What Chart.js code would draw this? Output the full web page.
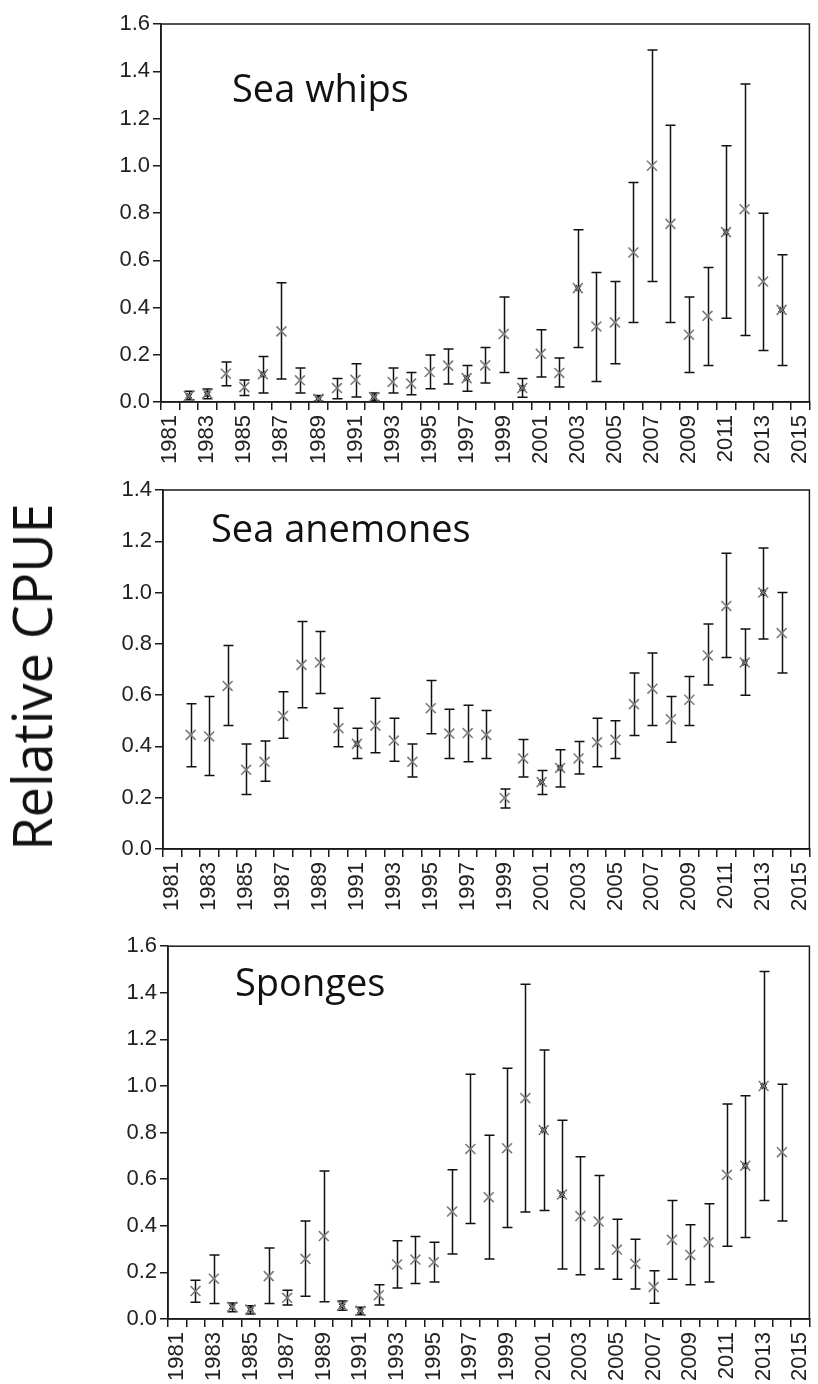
<!DOCTYPE html>
<html>
<head>
<meta charset="utf-8">
<script src="https://cdn.jsdelivr.net/npm/chart.js@4.4.1/dist/chart.umd.min.js"></script>
<style>
  body { margin: 0; background: #fff; }
  #wrap { position: relative; width: 818px; height: 1384px; }
  canvas { position: absolute; left: 0; }
  #ylab { position: absolute; left: 31px; top: 677px; transform: translate(-50%, -50%) rotate(-90deg);
          font-family: "Open Sans", sans-serif; font-size: 54px; color: #111; white-space: nowrap; }
</style>
</head>
<body>
<div id="wrap">
  <canvas id="c1" width="818" height="465" style="top:0px"></canvas>
  <canvas id="c2" width="818" height="465" style="top:465px"></canvas>
  <canvas id="c3" width="818" height="454" style="top:930px"></canvas>
  <div id="ylab">Relative CPUE</div>
</div>
<script>
// category labels on the x axis (one slot per year)
var yearLabels = ['1981','1982','1983','1984','1985','1986','1987','1988','1989','1990','1991','1992',
  '1993','1994','1995','1996','1997','1998','1999','2000','2001','2002','2003','2004','2005','2006',
  '2007','2008','2009','2010','2011','2012','2013','2014','2015'];
// years that have a survey value
var dataYears = [1982,1983,1984,1985,1986,1987,1988,1989,1990,1991,1992,1993,1994,1995,1996,
  1997,1998,1999,2000,2001,2002,2003,2004,2005,2006,2007,2008,2009,2010,2011,2012,2013,2014];

// Sea whips
var whipsMean = [0.025,0.035,0.12,0.063,0.117,0.299,0.092,0.014,0.059,0.094,0.021,0.085,0.078,0.127,0.154,
  0.101,0.155,0.288,0.059,0.204,0.123,0.482,0.320,0.337,0.633,1.0,0.754,0.285,0.365,0.719,0.816,0.510,0.390];
var whipsHigh = [0.045,0.055,0.169,0.093,0.193,0.505,0.144,0.027,0.099,0.162,0.038,0.144,0.125,0.199,0.224,
  0.155,0.231,0.444,0.099,0.306,0.186,0.729,0.548,0.510,0.929,1.49,1.171,0.444,0.569,1.085,1.346,0.799,0.623];
var whipsLow = [0.01,0.014,0.069,0.027,0.038,0.097,0.038,0.003,0.014,0.021,0.006,0.038,0.031,0.056,0.076,
  0.045,0.080,0.125,0.020,0.106,0.063,0.231,0.087,0.162,0.337,0.510,0.337,0.125,0.155,0.355,0.282,0.218,0.155];
var whipsDark = [1982,1983,1986,1989,1992,1997,2000,2003,2011,2014];

// Sea anemones
var anemMean = [0.445,0.439,0.636,0.309,0.340,0.519,0.718,0.727,0.471,0.410,0.481,0.423,0.340,0.549,0.450,
  0.452,0.445,0.199,0.353,0.261,0.316,0.353,0.416,0.426,0.565,0.625,0.506,0.582,0.755,0.948,0.727,1.0,0.842];
var anemHigh = [0.566,0.595,0.794,0.409,0.421,0.613,0.887,0.848,0.549,0.471,0.588,0.510,0.409,0.657,0.545,
  0.561,0.540,0.234,0.427,0.306,0.387,0.419,0.510,0.500,0.686,0.764,0.595,0.673,0.877,1.153,0.858,1.174,1.0];
var anemLow = [0.321,0.287,0.482,0.213,0.264,0.432,0.551,0.606,0.399,0.353,0.375,0.342,0.281,0.449,0.353,
  0.340,0.353,0.160,0.281,0.213,0.242,0.292,0.321,0.353,0.443,0.482,0.416,0.482,0.640,0.747,0.600,0.819,0.686];
var anemDark = [1991,2001,2002,2012,2013];

// Sponges
var spongeMean = [0.120,0.173,0.052,0.041,0.184,0.091,0.258,0.356,0.057,0.035,0.102,0.234,0.255,0.244,0.461,
  0.730,0.523,0.733,0.948,0.811,0.534,0.442,0.418,0.298,0.237,0.137,0.340,0.275,0.329,0.619,0.658,1.0,0.716];
var spongeHigh = [0.166,0.275,0.069,0.057,0.305,0.123,0.421,0.635,0.077,0.050,0.147,0.336,0.354,0.329,0.641,
  1.050,0.789,1.076,1.437,1.155,0.853,0.696,0.616,0.428,0.342,0.207,0.509,0.404,0.495,0.923,0.958,1.491,1.008];
var spongeLow = [0.072,0.067,0.031,0.021,0.067,0.060,0.098,0.074,0.038,0.018,0.060,0.133,0.152,0.159,0.279,
  0.410,0.258,0.393,0.459,0.466,0.215,0.190,0.215,0.171,0.129,0.068,0.171,0.147,0.159,0.312,0.350,0.509,0.421];
var spongeDark = [1984,1985,1990,1991,2001,2002,2012,2013];

var tickFont = { family: '"Liberation Sans", Arial, sans-serif', size: 22 };
var axisColor = '#1a1a1a';

// whiskers drawn under the markers, from the y scale
var errorBars = {
  id: 'errorBars',
  beforeDatasetsDraw: function (chart, args, opts) {
    var ctx = chart.ctx, y = chart.scales.y;
    var pts = chart.getDatasetMeta(0).data;
    ctx.save();
    ctx.strokeStyle = '#111';
    ctx.lineWidth = 1.5;
    for (var i = 0; i < pts.length; i++) {
      var px = Math.round(pts[i].x) + 0.5;
      var top = y.getPixelForValue(opts.high[i]);
      var bot = y.getPixelForValue(opts.low[i]);
      ctx.beginPath();
      ctx.moveTo(px, top); ctx.lineTo(px, bot);
      ctx.moveTo(px - 5, top); ctx.lineTo(px + 5, top);
      ctx.moveTo(px - 5, bot); ctx.lineTo(px + 5, bot);
      ctx.stroke();
    }
    ctx.restore();
  }
};

// box round the plot area and the panel name
var frame = {
  id: 'frame',
  afterDraw: function (chart, args, opts) {
    var a = chart.chartArea, ctx = chart.ctx;
    ctx.save();
    ctx.strokeStyle = axisColor;
    ctx.lineWidth = 1.5;
    ctx.strokeRect(a.left, a.top, a.right - a.left, a.bottom - a.top);
    ctx.fillStyle = '#111';
    ctx.font = '38px "Open Sans", sans-serif';
    ctx.textBaseline = 'alphabetic';
    ctx.fillText(opts.text, a.left + opts.dx, a.top + opts.dy);
    ctx.restore();
  }
};

function makePanel(id, name, mean, low, high, dark, yMax, box) {
  var pts = dataYears.map(function (yr, i) { return { x: String(yr), y: mean[i] }; });
  var darkPts = dataYears.map(function (yr, i) {
    return dark.indexOf(yr) >= 0 ? { x: String(yr), y: mean[i] } : null;
  }).filter(function (p) { return p; });

  new Chart(document.getElementById(id), {
    type: 'line',
    data: {
      labels: yearLabels,
      datasets: [{
        data: pts,
        showLine: false,
        pointStyle: 'crossRot',
        pointRadius: 7,
        pointBorderWidth: 1.6,
        pointBorderColor: '#7b7b7b',
        pointBackgroundColor: '#7b7b7b'
      }, {
        data: darkPts,
        showLine: false,
        pointStyle: 'crossRot',
        pointRadius: 3.5,
        pointBorderWidth: 2.6,
        pointBorderColor: '#000',
        pointBackgroundColor: '#000'
      }]
    },
    options: {
      responsive: false,
      animation: false,
      layout: { padding: { top: box.top, right: box.right, left: 0, bottom: 0 } },
      plugins: {
        legend: { display: false },
        tooltip: { enabled: false },
        errorBars: { low: low, high: high },
        frame: { text: name, dx: box.dx, dy: box.dy }
      },
      scales: {
        x: {
          type: 'category',
          offset: true,
          grid: { offset: true, drawOnChartArea: false, tickLength: 8, color: axisColor, lineWidth: 1.5 },
          border: { color: axisColor, width: 1.5 },
          ticks: {
            autoSkip: false, minRotation: 90, maxRotation: 90, padding: 5,
            font: tickFont, color: '#222',
            callback: function (v, i) { return i % 2 === 0 ? this.getLabelForValue(v) : ''; }
          },
          afterFit: function (s) { s.height = box.xh; s.paddingLeft = 0; s.paddingRight = 0; }
        },
        y: {
          min: 0, max: yMax,
          grid: { drawOnChartArea: false, tickLength: 8, color: axisColor, lineWidth: 1.5 },
          border: { color: axisColor, width: 1.5 },
          ticks: {
            stepSize: 0.2, padding: 3, font: tickFont, color: '#222',
            callback: function (v) { return v.toFixed(1); }
          },
          afterFit: function (s) { s.width = box.yw; }
        }
      }
    },
    plugins: [errorBars, frame]
  });
}

makePanel('c1', 'Sea whips', whipsMean, whipsLow, whipsHigh, whipsDark, 1.6,
  { top: 24, right: 6, xh: 63, yw: 161, dx: 71, dy: 78 });
makePanel('c2', 'Sea anemones', anemMean, anemLow, anemHigh, anemDark, 1.4,
  { top: 25, right: 3, xh: 81, yw: 163, dx: 48, dy: 52 });
makePanel('c3', 'Sponges', spongeMean, spongeLow, spongeHigh, spongeDark, 1.6,
  { top: 13, right: 1, xh: 65, yw: 168, dx: 67, dy: 50 });
</script>
</body>
</html>
